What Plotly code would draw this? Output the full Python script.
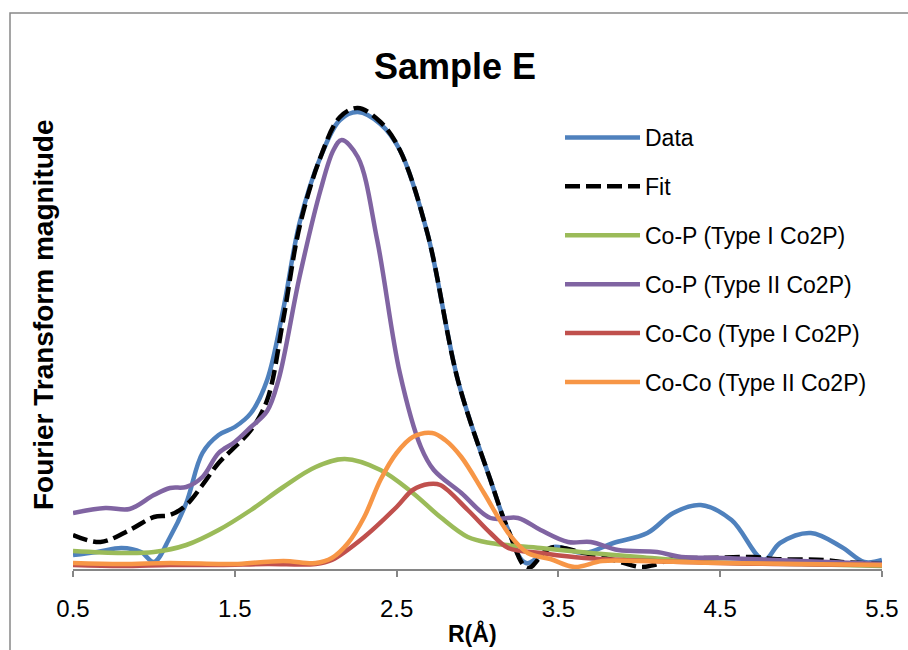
import plotly.graph_objects as go

# ---- data ----
data_r = [0.5, 0.65, 0.8, 0.92, 1.0, 1.1, 1.2, 1.3, 1.4, 1.5, 1.6, 1.7, 1.8, 1.9, 2.03, 2.15, 2.26,
          2.4, 2.52, 2.69, 2.88, 3.08, 3.19, 3.3, 3.47, 3.66, 3.84, 4.05, 4.21, 4.38, 4.57, 4.77,
          4.87, 5.06, 5.25, 5.39, 5.5]
data_y = [0.14, 0.17, 0.21, 0.17, 0.07, 0.32, 0.66, 1.16, 1.34, 1.42, 1.56, 1.89, 2.6, 3.46, 4.12, 4.49, 4.57,
          4.45, 4.19, 3.36, 1.88, 0.89, 0.39, 0.06, 0.22, 0.16, 0.26, 0.36, 0.56, 0.64, 0.49, 0.09,
          0.26, 0.36, 0.22, 0.07, 0.09]

fit_r = [0.5, 0.67, 0.85, 1.0, 1.1, 1.2, 1.3, 1.4, 1.5, 1.6, 1.7, 1.8, 1.9, 2.03, 2.15, 2.26, 2.4, 2.52,
         2.69, 2.88, 3.08, 3.19, 3.31, 3.45, 3.66, 3.84, 4.01, 4.09, 4.21, 4.42, 4.71, 4.83, 5.14,
         5.25, 5.5]
fit_y = [0.34, 0.27, 0.39, 0.52, 0.54, 0.64, 0.84, 1.06, 1.22, 1.39, 1.69, 2.5, 3.42, 4.12, 4.52, 4.61, 4.47,
         4.19, 3.36, 1.88, 0.89, 0.39, 0.01, 0.21, 0.16, 0.09, 0.02, 0.04, 0.10, 0.11, 0.12, 0.10,
         0.09, 0.07, 0.05]

cop1_r = [0.5, 0.8, 1.0, 1.2, 1.4, 1.6, 1.8, 2.0, 2.18, 2.4, 2.6, 2.77, 2.94, 3.08, 3.39, 3.7, 4.0,
          4.4, 5.0, 5.5]
cop1_y = [0.18, 0.16, 0.17, 0.24, 0.39, 0.59, 0.82, 1.02, 1.10, 0.99, 0.76, 0.52, 0.32, 0.26, 0.21,
          0.16, 0.12, 0.07, 0.05, 0.03]

cop2_r = [0.5, 0.7, 0.85, 1.0, 1.1, 1.2, 1.3, 1.4, 1.5, 1.6, 1.7, 1.77, 1.9, 2.03, 2.11, 2.16, 2.26,
          2.38, 2.52, 2.65, 2.73, 2.9, 3.08, 3.25, 3.39, 3.56, 3.7, 3.87, 4.11, 4.26, 4.52, 4.83, 5.5]
cop2_y = [0.56, 0.61, 0.60, 0.74, 0.81, 0.82, 0.92, 1.16, 1.27, 1.42, 1.58, 1.89, 2.92, 3.79, 4.19,
          4.29, 4.12, 3.29, 1.96, 1.22, 0.99, 0.76, 0.51, 0.51, 0.39, 0.27, 0.27, 0.19, 0.17, 0.12,
          0.11, 0.09, 0.05]

coco1_r = [0.5, 0.8, 1.1, 1.4, 1.7, 2.0, 2.1, 2.3, 2.5, 2.6, 2.7, 2.77, 2.94, 3.08, 3.19, 3.39, 3.66,
           4.5, 5.5]
coco1_y = [0.04, 0.03, 0.04, 0.04, 0.05, 0.05, 0.09, 0.32, 0.62, 0.79, 0.85, 0.84, 0.59, 0.36, 0.21,
           0.16, 0.11, 0.06, 0.04]

coco2_r = [0.5, 0.8, 1.1, 1.4, 1.5, 1.8, 2.0, 2.1, 2.2, 2.3, 2.4, 2.5, 2.6, 2.72, 2.8, 2.9, 3.04, 3.19,
           3.31, 3.45, 3.6, 3.77, 4.0, 4.5, 5.0, 5.5]
coco2_y = [0.06, 0.05, 0.06, 0.05, 0.05, 0.08, 0.06, 0.11, 0.26, 0.52, 0.89, 1.16, 1.32, 1.36, 1.29,
           1.12, 0.76, 0.36, 0.16, 0.10, 0.02, 0.08, 0.08, 0.06, 0.05, 0.04]

x_ticks = [0.5, 1.5, 2.5, 3.5, 4.5, 5.5]
x_tick_labels = ["0.5", "1.5", "2.5", "3.5", "4.5", "5.5"]

series = [
    ("Data", data_r, data_y, "#4F81BD", "solid"),
    ("Fit", fit_r, fit_y, "#000000", "15px,6px"),
    ("Co-P (Type I Co2P)", cop1_r, cop1_y, "#9BBB59", "solid"),
    ("Co-P (Type II Co2P)", cop2_r, cop2_y, "#8064A2", "solid"),
    ("Co-Co (Type I Co2P)", coco1_r, coco1_y, "#C0504D", "solid"),
    ("Co-Co (Type II Co2P)", coco2_r, coco2_y, "#F79646", "solid"),
]

FONT = "Liberation Sans"

fig = go.Figure()
for i, (name, xr, yv, col, dash) in enumerate(series):
    fig.add_trace(go.Scatter(
        x=xr, y=yv, name=name, mode="lines",
        line=dict(color=col, width=4.5, dash=dash, shape="spline", smoothing=1.0),
        legendgroup=f"g{i}",
    ))

W, H = 908, 650
ml, mr, mt, mb = 73, 26, 90, 81
pw = W - ml - mr
ph = H - mt - mb

def px_x(px):
    return (px - ml) / pw

def px_y(py):
    return (H - mb - py) / ph

fig.update_layout(
    width=W, height=H,
    margin=dict(l=ml, r=mr, t=mt, b=mb, autoexpand=False),
    paper_bgcolor="white", plot_bgcolor="white",
    font=dict(family=FONT, color="black"),
    title=dict(text="<b>Sample E</b>", x=455 / W, xanchor="center",
               y=1 - 66 / H, yanchor="middle", font=dict(size=36, family=FONT)),
    showlegend=True,
    legend=dict(x=px_x(560), y=px_y(116), xanchor="left", yanchor="top",
                font=dict(size=23, family=FONT), itemwidth=75,
                traceorder="grouped", tracegroupgap=16,
                bgcolor="rgba(0,0,0,0)"),
    xaxis=dict(range=[0.5, 5.5], tickvals=x_ticks, ticktext=x_tick_labels,
               showline=True, linecolor="#868686", linewidth=1.5,
               ticks="outside", ticklen=6, tickcolor="#868686", tickwidth=1.5,
               showgrid=False, zeroline=False,
               tickfont=dict(size=24, family=FONT), ticklabelstandoff=11),
    yaxis=dict(range=[0, ph / 100.0], showline=False, showgrid=False, zeroline=False,
               showticklabels=False, ticks=""),
    annotations=[
        dict(text="<b>Fourier Transform magnitude</b>", textangle=-90,
             xref="paper", yref="paper", x=px_x(43), y=px_y(315),
             xanchor="center", yanchor="middle", showarrow=False,
             font=dict(size=28, family=FONT)),
        dict(text="<b>R(Å)</b>", xref="paper", yref="paper",
             x=px_x(472), y=px_y(633), xanchor="center", yanchor="middle",
             showarrow=False, font=dict(size=23, family=FONT)),
    ],
    shapes=[dict(type="rect", xref="paper", yref="paper",
                 x0=px_x(10), x1=px_x(930), y0=px_y(670), y1=px_y(13),
                 line=dict(color="#888888", width=1.5), fillcolor="rgba(0,0,0,0)",
                 layer="below")],
)

fig.write_html("out.html", config={"displayModeBar": False},
               post_script="document.body.style.margin='0';document.body.style.overflow='hidden';")
